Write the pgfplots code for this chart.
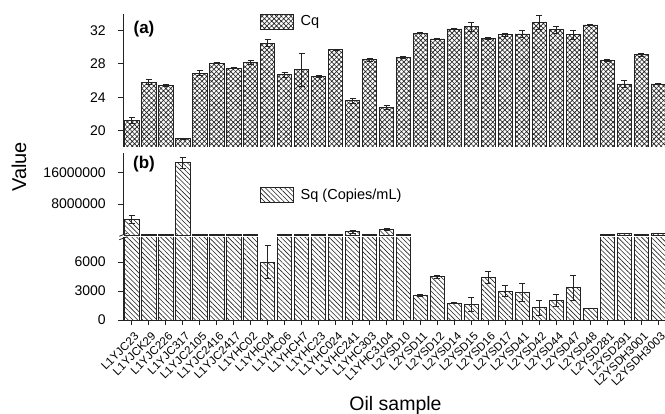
\documentclass[border=0pt]{standalone}
\usepackage{pgfplots}
\pgfplotsset{compat=1.18}
\usepackage{pgfplotstable}
\usepackage{fontspec}
\setmainfont{Liberation Sans}
\usetikzlibrary{patterns.meta}

\definecolor{ink}{RGB}{35,35,35}

\pgfplotstableread{
x Cq Cqerr Sq Sqerr SqerrL
0 21.2 0.35 4100000 900000 0
1 25.8 0.30 200000 0 0
2 25.4 0.10 200000 0 0
3 19.0 0.10 18600000 1400000 0
4 26.9 0.30 150000 0 0
5 28.1 0.05 150000 0 0
6 27.5 0.05 150000 0 0
7 28.2 0.25 150000 0 0
8 30.5 0.40 6000 1700 1700
9 26.7 0.30 150000 0 0
10 27.3 1.95 200000 0 0
11 26.5 0.10 150000 0 0
12 29.7 0.05 150000 0 0
13 23.6 0.30 900000 300000 0
14 28.5 0.20 150000 0 0
15 22.8 0.25 1500000 250000 0
16 28.8 0.10 150000 0 0
17 31.7 0.05 2600 100 100
18 31.0 0.05 4500 150 150
19 32.2 0.05 1740 50 50
20 32.5 0.55 1630 700 700
21 31.1 0.15 4430 650 650
22 31.5 0.20 3000 550 550
23 31.6 0.40 2880 950 950
24 33.0 0.85 1280 800 800
25 32.1 0.40 2000 630 630
26 31.5 0.50 3360 1300 1300
27 32.7 0.05 1220 0 0
28 28.4 0.15 150000 0 0
29 25.6 0.40 500000 50000 0
30 29.1 0.15 150000 0 0
31 25.6 0.05 500000 0 0
}\data

\pgfplotsset{
  base/.style={
    scale only axis, width=541.7pt, xmin=-0.5, xmax=31.4,
    ybar, bar width=0.84, anchor=south west,
    /pgf/number format/assume math mode=true,
    tick align=outside, major tick length=5pt,
    axis line style={ink, line width=0.8pt},
    tick style={ink, line width=0.8pt},
    tick label style={font=\fontsize{14}{16}\selectfont},
    yticklabel style={xshift=-9pt},
    scaled y ticks=false,
    legend cell align=left,
    legend image code/.code={\draw[##1, draw=ink, line width=0.7pt] (0pt,-7.5pt) rectangle (33pt,7.5pt);},
    legend style={draw=none, fill=none, inner sep=0pt, outer sep=0pt,
      nodes={inner sep=0pt, outer sep=0pt, font=\fontsize{14.5}{16}\selectfont},
      /tikz/every odd column/.append style={column sep=7pt}},
  },
  cqstyle/.style={draw=ink, line width=0.6pt, pattern={Hatch[angle=45,distance=3.4pt,line width=0.65pt]}, pattern color=ink},
  sqstyle/.style={draw=ink, line width=0.6pt, pattern={Lines[angle=-45,distance=3.4pt,line width=0.6pt]}, pattern color=ink},
  errs/.style={error bars/.cd, y dir=both, y explicit,
    error bar style={ink, line width=0.6pt},
    error mark options={rotate=90, ink, mark size=3pt, line width=0.6pt}, /pgfplots/.cd},
}

\begin{document}
\begin{tikzpicture}
\useasboundingbox (0,0) rectangle (665pt,413pt);

% panel (a)
\begin{axis}[base, at={(123.3pt,266pt)}, height=133pt,
  ymin=18, ymax=34, ytick={20,24,28,32}, yticklabels={20,24,28,32},
  axis x line=none, axis y line*=left,
  legend style={at={(0.2524,0.9436)}, anchor=west}]
\addplot[cqstyle, errs] table[x=x, y=Cq, y error=Cqerr] {\data};
\addlegendentry{Cq}
\end{axis}

% panel (b) upper
\begin{axis}[base, at={(123.3pt,177.7pt)}, height=82pt,
  ymin=0, ymax=21000000, ytick={8000000,16000000},
  yticklabels={8000000,16000000},
  axis x line=none, axis y line*=left,
  legend style={at={(0.2524,0.491)}, anchor=west}]
\addplot[sqstyle, restrict y to domain=10000:30000000, errs] table[x=x, y=Sq, y error=Sqerr] {\data};
\addlegendentry{Sq (Copies/mL)}
\end{axis}

% panel (b) lower
\begin{axis}[base, at={(123.3pt,93pt)}, height=83pt,
  ymin=0, ymax=8600, ytick={0,3000,6000}, yticklabels={0,3000,6000},
  axis x line*=bottom, axis y line*=left,
  xtick={0,...,31},
  xticklabels={L1YJC23,L1YJCK29,L1YJC226,L1YJC317,L1YJC2105,L1YJC2416,L1YJC2417,L1YHC02,L1YHC04,L1YHC06,L1YHCH7,L1YHC23,L1YHC024,L1YHC241,L1YHC303,L1YHC3104,L2YSD10,L2YSD11,L2YSD12,L2YSD14,L2YSD15,L2YSD16,L2YSD17,L2YSD41,L2YSD42,L2YSD44,L2YSD47,L2YSD48,L2YSD281,L2YSD291,L2YSDH3001,L2YSDH3003},
  xticklabel style={rotate=45, anchor=east, inner sep=0.5pt, xshift=-2.5pt, yshift=-10pt, font=\fontsize{11.5}{13}\selectfont}]
\addplot[sqstyle, restrict y to domain*=0:9000, errs] table[x=x, y=Sq, y error=SqerrL] {\data};
\end{axis}

% axis break mark
\draw[ink, line width=0.8pt] (119.3pt,173.3pt) -- (127.3pt,176.3pt);
\draw[ink, line width=0.8pt] (119.3pt,176.8pt) -- (127.3pt,179.8pt);

% panel letters and axis titles
\node[font=\bfseries\fontsize{17}{19}\selectfont] at (144pt,384pt) {(a)};
\node[font=\bfseries\fontsize{17}{19}\selectfont] at (144pt,249pt) {(b)};
\node[rotate=90, font=\fontsize{20}{22}\selectfont] at (19pt,246pt) {Value};
\node[anchor=base, font=\fontsize{19.5}{22}\selectfont] at (395.5pt,2.8pt) {Oil sample};
\end{tikzpicture}
\end{document}
